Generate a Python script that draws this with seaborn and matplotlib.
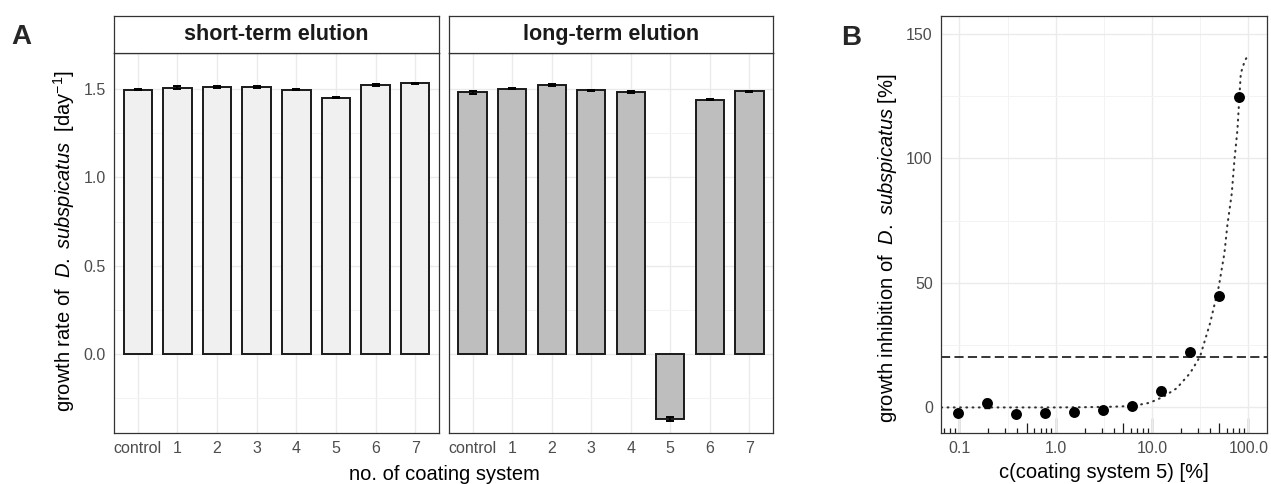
import numpy as np
import pandas as pd
import matplotlib
matplotlib.use("Agg")
import matplotlib.pyplot as plt
import seaborn as sns
from matplotlib.ticker import FixedLocator, NullFormatter, NullLocator

# ---------------- data ----------------
categories = ["control", "1", "2", "3", "4", "5", "6", "7"]
short_term = [1.497, 1.508, 1.510, 1.511, 1.497, 1.452, 1.525, 1.532]
short_err = [0.005, 0.007, 0.005, 0.006, 0.005, 0.002, 0.005, 0.005]
long_term = [1.481, 1.503, 1.522, 1.494, 1.484, -0.366, 1.440, 1.487]
long_err = [0.008, 0.003, 0.004, 0.003, 0.005, 0.012, 0.002, 0.004]
facet_titles = ["short-term elution", "long-term elution"]

conc = [0.0977, 0.195, 0.391, 0.781, 1.5625, 3.125, 6.25, 12.5, 25, 50, 80]
inhibition = [-2.4, 1.4, -2.8, -2.4, -2.0, -1.2, 0.4, 6.3, 22.1, 44.5, 124.7]
inhibition_err = [0.6, 1.8, 0.6, 0.6, 0.6, 0.6, 0.6, 1.5, 0.8, 0.8, 0.8]
fit_x = [0.065, 0.2, 0.5, 1.0, 2.0, 4.0, 6.35, 9.5, 13.1, 18.0, 24.8, 31.5,
         40.0, 49.3, 56.4, 60.5, 67.2, 71.6, 76.9, 83.4, 92.0, 100.0]
fit_y = [-0.3, -0.3, -0.3, -0.3, -0.2, 0.0, 0.3, 1.6, 4.0, 7.4, 13.5, 20.2,
         33.6, 48.4, 61.9, 73.1, 85.9, 99.3, 111.4, 134.3, 139.5, 141.7]
threshold = 20
x_tick_vals = [0.1, 1, 10, 100]
x_tick_labels = ["0.1", "1.0", "10.0", "100.0"]
y_ticks_A = [0.0, 0.5, 1.0, 1.5]
y_ticks_B = [0, 50, 100, 150]

# ---------------- style ----------------
sns.set_style("white")
plt.rcParams['font.family'] = ['Liberation Sans', 'DejaVu Sans']
plt.rcParams['mathtext.fontset'] = 'custom'
plt.rcParams['mathtext.rm'] = 'Liberation Sans'
plt.rcParams['mathtext.it'] = 'Liberation Sans:italic'
plt.rcParams['mathtext.bf'] = 'Liberation Sans:bold'
plt.rcParams['mathtext.sf'] = 'Liberation Sans'

W, H = 1271, 484
fig = plt.figure(figsize=(W / 100, H / 100), dpi=100)


def px(l, t, r, b):
    return [l / W, (H - b) / H, (r - l) / W, (b - t) / H]


BORDER = '#333333'
GRID = '#EBEBEB'
GRID_MINOR = '#F3F3F3'
TICKLAB = '#4D4D4D'
TICK_FS = 11.5
TITLE_FS = 14.5


def style_axes(ax):
    for s in ax.spines.values():
        s.set_visible(True)
        s.set_color(BORDER)
        s.set_linewidth(0.9)
    ax.tick_params(which='major', length=2.9, width=0.8, color=BORDER,
                   labelcolor=TICKLAB, labelsize=TICK_FS, pad=3)
    ax.tick_params(which='minor', length=0)
    ax.set_axisbelow(True)
    ax.set_xlabel("")
    ax.set_ylabel("")


# ---------------- panel A ----------------
axL = fig.add_axes(px(114, 53, 439, 433))
axR = fig.add_axes(px(449, 53, 773, 433), sharey=axL)
fills = ['#F0F0F0', '#BEBEBE']
datasets = [(short_term, short_err), (long_term, long_err)]
for ax, (vals, errs), fill, title in zip([axL, axR], datasets, fills, facet_titles):
    df = pd.DataFrame({"system": categories, "rate": vals, "err": errs})
    sns.barplot(data=df, x="system", y="rate", order=categories, ax=ax,
                color=fill, saturation=1, edgecolor='#1A1A1A', linewidth=1.4,
                width=0.72, errorbar=None, zorder=2)
    xs = np.arange(len(categories))
    ax.errorbar(xs, df["rate"], yerr=df["err"], fmt='none', ecolor='black',
                elinewidth=1.2, capsize=3.2, capthick=1.4, zorder=3)
    style_axes(ax)
    ax.set_xlim(-0.6, len(categories) - 0.4)
    ax.set_ylim(-0.447, 1.704)
    ax.set_yticks(y_ticks_A)
    ax.yaxis.set_minor_locator(FixedLocator([-0.25, 0.25, 0.75, 1.25]))
    ax.grid(True, which='major', color=GRID, lw=1.0)
    ax.grid(True, which='minor', axis='y', color=GRID_MINOR, lw=0.7)
    # strip
    pos = ax.get_position()
    sax = fig.add_axes([pos.x0, (H - 53) / H, pos.width, 37 / H])
    sax.set_xticks([])
    sax.set_yticks([])
    sax.set_facecolor('white')
    for s in sax.spines.values():
        s.set_visible(True)
        s.set_color(BORDER)
        s.set_linewidth(0.9)
    sax.text(0.5, 0.5, title, ha='center', va='center', fontsize=15.5,
             fontweight='bold', color='#1A1A1A', transform=sax.transAxes)

axL.set_yticklabels([f"{v:.1f}" for v in y_ticks_A])
axR.tick_params(axis='y', which='both', left=False, labelleft=False)

fig.text(64 / W, 1 - 241 / H,
         r"growth rate of  $\it{D.\ subspicatus}$  [day$^{-1}$]",
         rotation=90, ha='center', va='center', fontsize=TITLE_FS, color='black')
fig.text(444 / W, 1 - 480 / H, "no. of coating system", ha='center',
         va='baseline', fontsize=TITLE_FS, color='black')
fig.text(21 / W, 1 - 37 / H, "A", ha='center', va='center', fontsize=20,
         fontweight='bold')

# ---------------- panel B ----------------
axB = fig.add_axes(px(941, 16, 1267, 433))
axB.set_xscale('log')
axB.set_xlim(0.0645, 156)
axB.set_ylim(-10.6, 157.4)

sns.lineplot(x=fit_x, y=fit_y, ax=axB, color='#333333', lw=1.5,
             estimator=None, sort=False, zorder=3)
line = axB.lines[-1]
line.set_linestyle((0, (0.4, 2.6)))
line.set_dash_capstyle('round')

axB.axhline(threshold, color='black', lw=1.1, linestyle=(0, (6, 2.8)), zorder=2)
axB.errorbar(conc, inhibition, yerr=inhibition_err, fmt='none', ecolor='black',
             elinewidth=1.2, capsize=2, zorder=4)
sns.scatterplot(x=conc, y=inhibition, ax=axB, color='black', s=62,
                linewidth=0, zorder=5)

style_axes(axB)
axB.set_xticks(x_tick_vals)
axB.set_xticklabels(x_tick_labels)
axB.xaxis.set_minor_locator(FixedLocator([10 ** (k + 0.5) for k in range(-2, 3)]))
axB.xaxis.set_minor_formatter(NullFormatter())
axB.set_yticks(y_ticks_B)
axB.set_yticklabels([str(v) for v in y_ticks_B])
axB.yaxis.set_minor_locator(FixedLocator([25, 75, 125]))
axB.grid(True, which='major', color=GRID, lw=1.0)
axB.grid(True, which='minor', color=GRID_MINOR, lw=0.7)
axB.tick_params(which='minor', length=0)

# annotation log ticks (inside, bottom)
lo, hi = axB.get_xlim()
decades = [10.0 ** d for d in range(-2, 3)]
long_t = [d for d in decades if lo <= d <= hi]
mid_t = [5 * d for d in decades if lo <= 5 * d <= hi]
short_t = [m * d for d in decades for m in (2, 3, 4, 6, 7, 8, 9) if lo <= m * d <= hi]
for positions, length in [(long_t, 10.8), (mid_t, 7.2), (short_t, 3.6)]:
    sec = axB.secondary_xaxis('bottom')
    sec.xaxis.set_major_locator(FixedLocator(positions))
    sec.xaxis.set_major_formatter(NullFormatter())
    sec.xaxis.set_minor_locator(NullLocator())
    sec.tick_params(axis='x', which='major', direction='in', length=length,
                    width=0.9, color='#1A1A1A', labelbottom=False)
    for s in sec.spines.values():
        s.set_visible(False)

fig.text(888 / W, 1 - 248 / H,
         r"growth inhibition of  $\it{D.\ subspicatus}$ [%]",
         rotation=90, ha='center', va='center', fontsize=TITLE_FS, color='black')
fig.text(1104 / W, 1 - 478 / H, "c(coating system 5) [%]", ha='center',
         va='baseline', fontsize=TITLE_FS, color='black')
fig.text(851 / W, 1 - 38 / H, "B", ha='center', va='center', fontsize=20,
         fontweight='bold')

fig.savefig("out.png", dpi=100)
